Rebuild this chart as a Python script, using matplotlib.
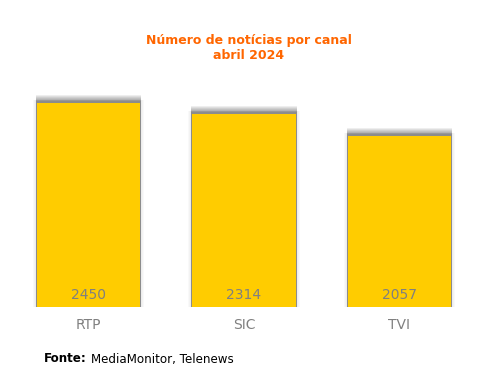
import matplotlib
matplotlib.use("Agg")
import matplotlib.pyplot as plt

# Data
canais = ["RTP", "SIC", "TVI"]
noticias = [2450, 2314, 2057]

fig = plt.figure(figsize=(4.88, 3.78), dpi=100)
# axes placed in pixel terms: left 11, right 477, bottom y=307, top y=90
ax = fig.add_axes([11 / 488, 1 - 307 / 378, 466 / 488, 217 / 378])

x = list(range(len(canais)))
bar_w = 0.665
px = 2605 / 217  # data units per pixel (vertical)
pxx = 3 / 466    # data units per pixel (horizontal)

# soft shadow: darker band above the bar, very faint on the sides
for k in range(1, 8):
    ax.bar(x, [v + (k + 1) * px for v in noticias], width=bar_w + 2 * pxx,
           color="#000000", alpha=0.065, linewidth=0, zorder=1)
for k in range(1, 5):
    ax.bar(x, [v + 3 * px for v in noticias], width=bar_w + 2 * k * pxx,
           color="#000000", alpha=0.025, linewidth=0, zorder=1)
ax.bar(x, noticias, width=bar_w, color="#FFCC00", linewidth=0, zorder=3)

for xi, v in zip(x, noticias):
    ax.text(xi, 62, f"{v}", ha="center", va="bottom", fontsize=10,
            color="#808080", zorder=4)

ax.set_xlim(-0.5, 2.5)
ax.set_ylim(0, 2605)
ax.set_xticks(x)
ax.set_xticklabels(canais, fontsize=10, color="#808080")
ax.tick_params(axis="x", length=0, pad=8)
ax.set_yticks([])
for s in ax.spines.values():
    s.set_visible(False)

fig.text(0.51, 1 - 48 / 378, "Número de notícias por canal\nabril 2024",
         ha="center", va="center", fontsize=9, fontweight="bold",
         color="#FF6600", linespacing=1.15)

t = fig.text(44 / 488, 1 - 359 / 378, "Fonte:", ha="left", va="center",
             fontsize=8.6, fontweight="bold", color="#000000")
fig.canvas.draw()
bb = t.get_window_extent()
fig.text((bb.x1 + 4) / 488, 1 - 359 / 378, "MediaMonitor, Telenews", ha="left",
         va="center", fontsize=8.6, color="#000000")

fig.savefig("out.png", dpi=100)
